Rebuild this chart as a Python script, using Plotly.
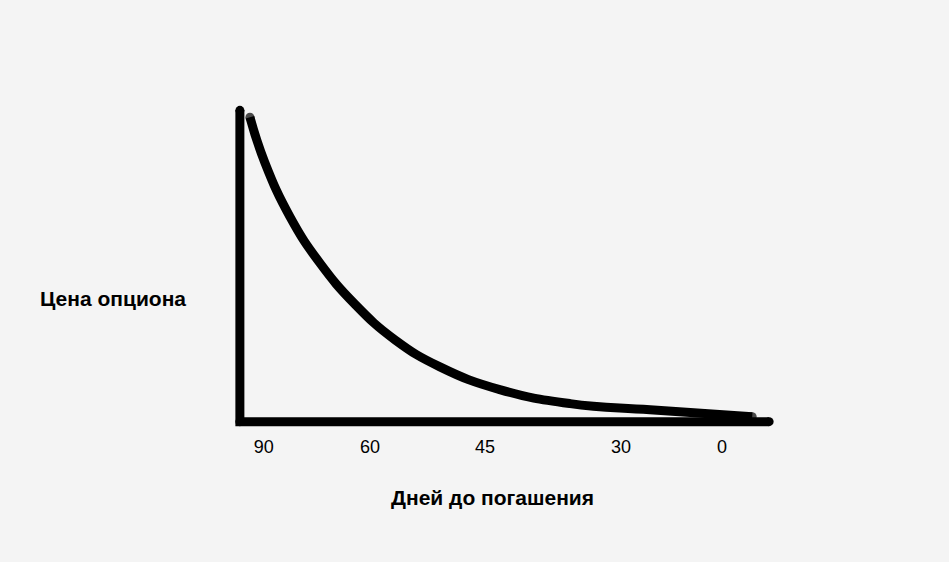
import plotly.graph_objects as go

# curve: position along the time axis (0..100) vs option price (0..100)
curve_x = [1.9, 4.7, 9.5, 15.1, 21.7, 29.3, 37.8, 49.1, 62.4, 77.5, 96.8]
curve_y = [97.8, 83.3, 65.7, 51.0, 37.8, 26.3, 17.6, 10.3, 5.8, 3.8, 1.6]

# axis frame (drawn as thick lines)
axis_x = [0, 0, 100]
axis_y = [100, 0, 0]

# days-to-expiry labels and where they sit along the axis
tick_pos = [4.5, 24.6, 46.3, 72.0, 91.1]
tick_text = ["90", "60", "45", "30", "0"]

bg = "#f4f4f4"

fig = go.Figure()
fig.add_trace(go.Scatter(x=axis_x, y=axis_y, mode='lines+markers',
                         line=dict(color='black', width=9),
                         marker=dict(color='black', size=9, line=dict(width=0)),
                         hoverinfo='skip', showlegend=False))
fig.add_trace(go.Scatter(x=curve_x, y=curve_y, mode='lines+markers',
                         line=dict(color='black', width=9, shape='spline', smoothing=1.3),
                         marker=dict(color='black', line=dict(width=0),
                                     size=[9] + [0] * (len(curve_x) - 2) + [9]),
                         hoverinfo='skip', showlegend=False))

fig.update_layout(width=949, height=562,
                  margin=dict(l=224, r=164, t=101, b=131),
                  paper_bgcolor=bg, plot_bgcolor=bg,
                  font=dict(family='Liberation Sans, Arial, sans-serif', color='black'))
fig.update_xaxes(range=[-3, 103], showgrid=False, zeroline=False, showline=False,
                 tickvals=tick_pos, ticktext=tick_text, ticks='',
                 tickfont=dict(size=18), ticklabelstandoff=3)
fig.update_yaxes(range=[-3, 103], showgrid=False, zeroline=False, showline=False,
                 showticklabels=False)
fig.add_annotation(text='<b>Цена опциона</b>', xref='paper', yref='y',
                   x=-0.198, y=39.7, showarrow=False, xanchor='center',
                   font=dict(size=21))
fig.add_annotation(text='<b>Дней до погашения</b>', xref='paper', yref='paper',
                   x=0.4786, y=-0.242, showarrow=False, xanchor='center',
                   font=dict(size=21))

fig.write_html("out.html", config={'displayModeBar': False},
               post_script="document.body.style.margin='0';document.body.style.background='%s';" % bg)
